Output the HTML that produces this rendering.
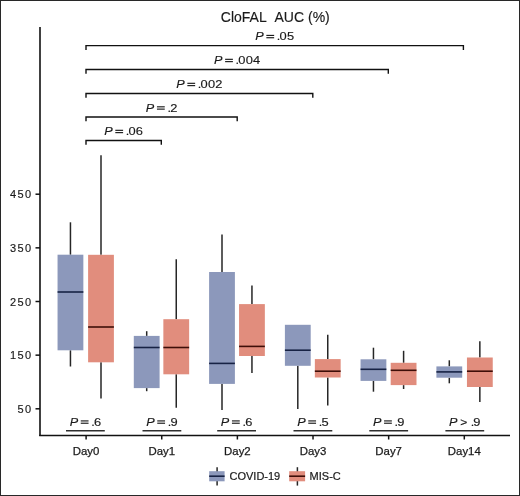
<!DOCTYPE html>
<html><head><meta charset="utf-8"><style>
html,body{margin:0;padding:0;background:#fff;}
body{width:520px;height:496px;overflow:hidden;}
svg{display:block;transform:translateZ(0);will-change:transform;}
text{font-family:"Liberation Sans", sans-serif;fill:#1a1a1a;}
.title{font-size:14px;stroke:#1a1a1a;stroke-width:0.15px;}
.yl{font-size:11px;letter-spacing:1.4px;stroke:#1a1a1a;stroke-width:0.15px;}
.dl{font-size:11.4px;stroke:#1a1a1a;stroke-width:0.25px;}
.lg{font-size:11px;stroke:#1a1a1a;stroke-width:0.2px;}
.pv{font-size:11.5px;stroke:#1a1a1a;stroke-width:0.15px;}
</style></head><body>
<svg width="520" height="496" viewBox="0 0 520 496">
<rect x="0" y="0" width="520" height="496" fill="#fff"/>
<text x="275.3" y="21.6" text-anchor="middle" class="title">CloFAL&#160;&#160;AUC (%)</text>
<line x1="40" y1="27" x2="40" y2="436" stroke="#111" stroke-width="1.6"/>
<line x1="39.2" y1="435.45" x2="510" y2="435.45" stroke="#111" stroke-width="1.5"/>
<line x1="35.5" y1="194.2" x2="40" y2="194.2" stroke="#111" stroke-width="1.5"/>
<text x="32.5" y="198.2" text-anchor="end" class="yl">450</text>
<line x1="35.5" y1="247.85" x2="40" y2="247.85" stroke="#111" stroke-width="1.5"/>
<text x="32.5" y="251.85" text-anchor="end" class="yl">350</text>
<line x1="35.5" y1="301.5" x2="40" y2="301.5" stroke="#111" stroke-width="1.5"/>
<text x="32.5" y="305.5" text-anchor="end" class="yl">250</text>
<line x1="35.5" y1="355.15" x2="40" y2="355.15" stroke="#111" stroke-width="1.5"/>
<text x="32.5" y="359.15" text-anchor="end" class="yl">150</text>
<line x1="35.5" y1="408.8" x2="40" y2="408.8" stroke="#111" stroke-width="1.5"/>
<text x="32.5" y="412.8" text-anchor="end" class="yl">50</text>
<line x1="86.10" y1="435" x2="86.10" y2="439.5" stroke="#111" stroke-width="1.5"/>
<text x="86.10" y="454.7" text-anchor="middle" class="dl">Day0</text>
<line x1="66.00" y1="430.85" x2="104.80" y2="430.85" stroke="#2e2e2e" stroke-width="1.5"/>
<g transform="translate(70.25,425.70)" class="pv"><text transform="translate(-0.6,0) scale(1.1,1)" font-style="italic">P</text><rect x="10.5" y="-5.35" width="7.8" height="1.15" fill="#1a1a1a" stroke="none"/><rect x="10.5" y="-3.05" width="7.8" height="1.15" fill="#1a1a1a" stroke="none"/><text transform="translate(21.0,0) scale(1.1,1)">.</text><text transform="translate(23.7,0) scale(1.12,1)" letter-spacing="0.2">6</text></g>
<line x1="70.45" y1="222.30" x2="70.45" y2="254.70" stroke="#262626" stroke-width="1.5"/>
<line x1="70.45" y1="350.30" x2="70.45" y2="366.50" stroke="#262626" stroke-width="1.5"/>
<rect x="57.55" y="254.70" width="25.80" height="95.60" fill="#8c98bb"/>
<line x1="57.55" y1="292.00" x2="83.35" y2="292.00" stroke="#172244" stroke-width="1.6"/>
<line x1="101.00" y1="155.30" x2="101.00" y2="254.80" stroke="#262626" stroke-width="1.5"/>
<line x1="101.00" y1="362.30" x2="101.00" y2="398.60" stroke="#262626" stroke-width="1.5"/>
<rect x="88.10" y="254.80" width="25.80" height="107.50" fill="#e18d7d"/>
<line x1="88.10" y1="327.00" x2="113.90" y2="327.00" stroke="#3e0e08" stroke-width="1.6"/>
<line x1="161.74" y1="435" x2="161.74" y2="439.5" stroke="#111" stroke-width="1.5"/>
<text x="161.74" y="454.7" text-anchor="middle" class="dl">Day1</text>
<line x1="142.50" y1="430.85" x2="181.30" y2="430.85" stroke="#2e2e2e" stroke-width="1.5"/>
<g transform="translate(146.75,425.70)" class="pv"><text transform="translate(-0.6,0) scale(1.1,1)" font-style="italic">P</text><rect x="10.5" y="-5.35" width="7.8" height="1.15" fill="#1a1a1a" stroke="none"/><rect x="10.5" y="-3.05" width="7.8" height="1.15" fill="#1a1a1a" stroke="none"/><text transform="translate(21.0,0) scale(1.1,1)">.</text><text transform="translate(23.7,0) scale(1.12,1)" letter-spacing="0.2">9</text></g>
<line x1="146.70" y1="331.20" x2="146.70" y2="335.90" stroke="#262626" stroke-width="1.5"/>
<line x1="146.70" y1="388.10" x2="146.70" y2="391.20" stroke="#262626" stroke-width="1.5"/>
<rect x="133.80" y="335.90" width="25.80" height="52.20" fill="#8c98bb"/>
<line x1="133.80" y1="347.50" x2="159.60" y2="347.50" stroke="#172244" stroke-width="1.6"/>
<line x1="176.25" y1="259.20" x2="176.25" y2="319.20" stroke="#262626" stroke-width="1.5"/>
<line x1="176.25" y1="374.30" x2="176.25" y2="407.80" stroke="#262626" stroke-width="1.5"/>
<rect x="163.35" y="319.20" width="25.80" height="55.10" fill="#e18d7d"/>
<line x1="163.35" y1="347.50" x2="189.15" y2="347.50" stroke="#3e0e08" stroke-width="1.6"/>
<line x1="237.38" y1="435" x2="237.38" y2="439.5" stroke="#111" stroke-width="1.5"/>
<text x="237.38" y="454.7" text-anchor="middle" class="dl">Day2</text>
<line x1="217.20" y1="430.85" x2="256.00" y2="430.85" stroke="#2e2e2e" stroke-width="1.5"/>
<g transform="translate(221.45,425.70)" class="pv"><text transform="translate(-0.6,0) scale(1.1,1)" font-style="italic">P</text><rect x="10.5" y="-5.35" width="7.8" height="1.15" fill="#1a1a1a" stroke="none"/><rect x="10.5" y="-3.05" width="7.8" height="1.15" fill="#1a1a1a" stroke="none"/><text transform="translate(21.0,0) scale(1.1,1)">.</text><text transform="translate(23.7,0) scale(1.12,1)" letter-spacing="0.2">6</text></g>
<line x1="222.00" y1="234.60" x2="222.00" y2="272.00" stroke="#262626" stroke-width="1.5"/>
<line x1="222.00" y1="383.90" x2="222.00" y2="410.00" stroke="#262626" stroke-width="1.5"/>
<rect x="209.10" y="272.00" width="25.80" height="111.90" fill="#8c98bb"/>
<line x1="209.10" y1="363.40" x2="234.90" y2="363.40" stroke="#172244" stroke-width="1.6"/>
<line x1="251.95" y1="285.40" x2="251.95" y2="304.10" stroke="#262626" stroke-width="1.5"/>
<line x1="251.95" y1="356.00" x2="251.95" y2="372.90" stroke="#262626" stroke-width="1.5"/>
<rect x="239.05" y="304.10" width="25.80" height="51.90" fill="#e18d7d"/>
<line x1="239.05" y1="346.40" x2="264.85" y2="346.40" stroke="#3e0e08" stroke-width="1.6"/>
<line x1="313.02" y1="435" x2="313.02" y2="439.5" stroke="#111" stroke-width="1.5"/>
<text x="313.02" y="454.7" text-anchor="middle" class="dl">Day3</text>
<line x1="293.50" y1="430.85" x2="332.30" y2="430.85" stroke="#2e2e2e" stroke-width="1.5"/>
<g transform="translate(297.75,425.70)" class="pv"><text transform="translate(-0.6,0) scale(1.1,1)" font-style="italic">P</text><rect x="10.5" y="-5.35" width="7.8" height="1.15" fill="#1a1a1a" stroke="none"/><rect x="10.5" y="-3.05" width="7.8" height="1.15" fill="#1a1a1a" stroke="none"/><text transform="translate(21.0,0) scale(1.1,1)">.</text><text transform="translate(23.7,0) scale(1.12,1)" letter-spacing="0.2">5</text></g>
<line x1="297.80" y1="324.80" x2="297.80" y2="324.80" stroke="#262626" stroke-width="1.5"/>
<line x1="297.80" y1="365.80" x2="297.80" y2="409.10" stroke="#262626" stroke-width="1.5"/>
<rect x="284.90" y="324.80" width="25.80" height="41.00" fill="#8c98bb"/>
<line x1="284.90" y1="350.20" x2="310.70" y2="350.20" stroke="#172244" stroke-width="1.6"/>
<line x1="327.75" y1="334.70" x2="327.75" y2="359.10" stroke="#262626" stroke-width="1.5"/>
<line x1="327.75" y1="377.50" x2="327.75" y2="405.40" stroke="#262626" stroke-width="1.5"/>
<rect x="314.85" y="359.10" width="25.80" height="18.40" fill="#e18d7d"/>
<line x1="314.85" y1="371.20" x2="340.65" y2="371.20" stroke="#3e0e08" stroke-width="1.6"/>
<line x1="388.66" y1="435" x2="388.66" y2="439.5" stroke="#111" stroke-width="1.5"/>
<text x="388.66" y="454.7" text-anchor="middle" class="dl">Day7</text>
<line x1="369.30" y1="430.85" x2="408.10" y2="430.85" stroke="#2e2e2e" stroke-width="1.5"/>
<g transform="translate(373.55,425.70)" class="pv"><text transform="translate(-0.6,0) scale(1.1,1)" font-style="italic">P</text><rect x="10.5" y="-5.35" width="7.8" height="1.15" fill="#1a1a1a" stroke="none"/><rect x="10.5" y="-3.05" width="7.8" height="1.15" fill="#1a1a1a" stroke="none"/><text transform="translate(21.0,0) scale(1.1,1)">.</text><text transform="translate(23.7,0) scale(1.12,1)" letter-spacing="0.2">9</text></g>
<line x1="373.45" y1="347.70" x2="373.45" y2="359.30" stroke="#262626" stroke-width="1.5"/>
<line x1="373.45" y1="380.90" x2="373.45" y2="391.70" stroke="#262626" stroke-width="1.5"/>
<rect x="360.55" y="359.30" width="25.80" height="21.60" fill="#8c98bb"/>
<line x1="360.55" y1="369.30" x2="386.35" y2="369.30" stroke="#172244" stroke-width="1.6"/>
<line x1="403.60" y1="350.80" x2="403.60" y2="362.80" stroke="#262626" stroke-width="1.5"/>
<line x1="403.60" y1="385.10" x2="403.60" y2="389.00" stroke="#262626" stroke-width="1.5"/>
<rect x="390.70" y="362.80" width="25.80" height="22.30" fill="#e18d7d"/>
<line x1="390.70" y1="370.30" x2="416.50" y2="370.30" stroke="#3e0e08" stroke-width="1.6"/>
<line x1="464.30" y1="435" x2="464.30" y2="439.5" stroke="#111" stroke-width="1.5"/>
<text x="464.30" y="454.7" text-anchor="middle" class="dl">Day14</text>
<line x1="445.40" y1="430.85" x2="484.20" y2="430.85" stroke="#2e2e2e" stroke-width="1.5"/>
<g transform="translate(449.65,425.70)" class="pv"><text transform="translate(-0.6,0) scale(1.1,1)" font-style="italic">P</text><text transform="translate(10.6,0) scale(1.05,1)">&gt;</text><text transform="translate(21.0,0) scale(1.1,1)">.</text><text transform="translate(23.7,0) scale(1.12,1)" letter-spacing="0.2">9</text></g>
<line x1="449.30" y1="360.30" x2="449.30" y2="366.40" stroke="#262626" stroke-width="1.5"/>
<line x1="449.30" y1="377.70" x2="449.30" y2="383.30" stroke="#262626" stroke-width="1.5"/>
<rect x="436.40" y="366.40" width="25.80" height="11.30" fill="#8c98bb"/>
<line x1="436.40" y1="371.90" x2="462.20" y2="371.90" stroke="#172244" stroke-width="1.6"/>
<line x1="479.85" y1="341.30" x2="479.85" y2="357.50" stroke="#262626" stroke-width="1.5"/>
<line x1="479.85" y1="387.00" x2="479.85" y2="401.90" stroke="#262626" stroke-width="1.5"/>
<rect x="466.95" y="357.50" width="25.80" height="29.50" fill="#e18d7d"/>
<line x1="466.95" y1="371.20" x2="492.75" y2="371.20" stroke="#3e0e08" stroke-width="1.6"/>
<path d="M86.00 49.90 V45.60 H463.40 V49.90" fill="none" stroke="#111" stroke-width="1.4"/>
<g transform="translate(255.85,40.20)" class="pv"><text transform="translate(-0.6,0) scale(1.1,1)" font-style="italic">P</text><rect x="10.5" y="-5.35" width="7.8" height="1.15" fill="#1a1a1a" stroke="none"/><rect x="10.5" y="-3.05" width="7.8" height="1.15" fill="#1a1a1a" stroke="none"/><text transform="translate(21.0,0) scale(1.1,1)">.</text><text transform="translate(23.7,0) scale(1.12,1)" letter-spacing="0.2">05</text></g>
<path d="M86.00 73.80 V69.50 H388.30 V73.80" fill="none" stroke="#111" stroke-width="1.4"/>
<g transform="translate(214.60,64.10)" class="pv"><text transform="translate(-0.6,0) scale(1.1,1)" font-style="italic">P</text><rect x="10.5" y="-5.35" width="7.8" height="1.15" fill="#1a1a1a" stroke="none"/><rect x="10.5" y="-3.05" width="7.8" height="1.15" fill="#1a1a1a" stroke="none"/><text transform="translate(21.0,0) scale(1.1,1)">.</text><text transform="translate(23.7,0) scale(1.12,1)" letter-spacing="0.2">004</text></g>
<path d="M86.00 97.80 V93.50 H312.80 V97.80" fill="none" stroke="#111" stroke-width="1.4"/>
<g transform="translate(176.85,88.10)" class="pv"><text transform="translate(-0.6,0) scale(1.1,1)" font-style="italic">P</text><rect x="10.5" y="-5.35" width="7.8" height="1.15" fill="#1a1a1a" stroke="none"/><rect x="10.5" y="-3.05" width="7.8" height="1.15" fill="#1a1a1a" stroke="none"/><text transform="translate(21.0,0) scale(1.1,1)">.</text><text transform="translate(23.7,0) scale(1.12,1)" letter-spacing="0.2">002</text></g>
<path d="M86.00 121.30 V117.00 H237.20 V121.30" fill="none" stroke="#111" stroke-width="1.4"/>
<g transform="translate(146.45,111.60)" class="pv"><text transform="translate(-0.6,0) scale(1.1,1)" font-style="italic">P</text><rect x="10.5" y="-5.35" width="7.8" height="1.15" fill="#1a1a1a" stroke="none"/><rect x="10.5" y="-3.05" width="7.8" height="1.15" fill="#1a1a1a" stroke="none"/><text transform="translate(21.0,0) scale(1.1,1)">.</text><text transform="translate(23.7,0) scale(1.12,1)" letter-spacing="0.2">2</text></g>
<path d="M86.00 144.80 V140.50 H161.30 V144.80" fill="none" stroke="#111" stroke-width="1.4"/>
<g transform="translate(104.80,135.10)" class="pv"><text transform="translate(-0.6,0) scale(1.1,1)" font-style="italic">P</text><rect x="10.5" y="-5.35" width="7.8" height="1.15" fill="#1a1a1a" stroke="none"/><rect x="10.5" y="-3.05" width="7.8" height="1.15" fill="#1a1a1a" stroke="none"/><text transform="translate(21.0,0) scale(1.1,1)">.</text><text transform="translate(23.7,0) scale(1.12,1)" letter-spacing="0.2">06</text></g>
<line x1="217.1" y1="467.2" x2="217.1" y2="485.6" stroke="#262626" stroke-width="1.5"/>
<rect x="209.2" y="471.2" width="15.400000000000006" height="10.1" fill="#8c98bb"/>
<line x1="209.2" y1="476.2" x2="224.6" y2="476.2" stroke="#172244" stroke-width="1.6"/>
<text x="229.5" y="480.1" class="lg">COVID-19</text>
<line x1="297.4" y1="467.2" x2="297.4" y2="485.6" stroke="#262626" stroke-width="1.5"/>
<rect x="289.2" y="471.2" width="15.900000000000034" height="10.1" fill="#e18d7d"/>
<line x1="289.2" y1="476.2" x2="305.1" y2="476.2" stroke="#3e0e08" stroke-width="1.6"/>
<text x="309.6" y="480.1" class="lg">MIS-C</text>
<rect x="0.5" y="0.5" width="519" height="495" fill="none" stroke="#282828" stroke-width="1"/>
</svg>
</body></html>
